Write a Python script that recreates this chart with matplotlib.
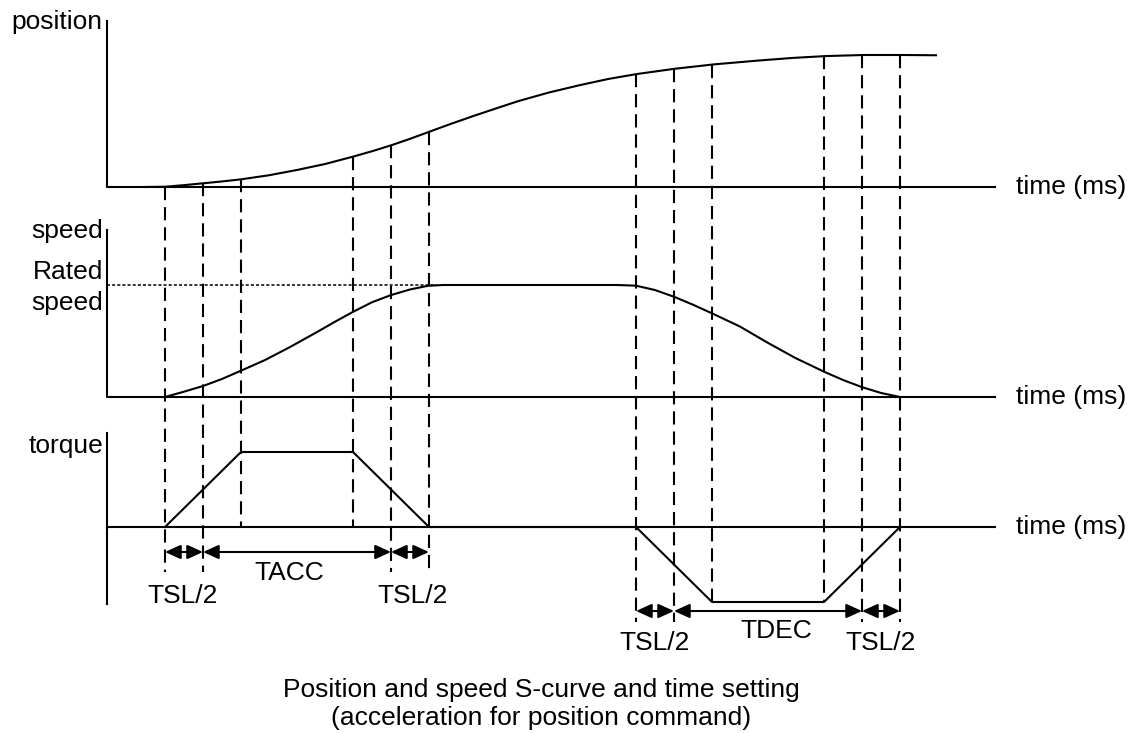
import matplotlib
matplotlib.use("Agg")
import matplotlib.pyplot as plt
import numpy as np

plt.rcParams["font.family"] = ["Liberation Sans", "DejaVu Sans"]
plt.rcParams["lines.scale_dashes"] = False

# time marks (t = 0 at start of acceleration)
acc_marks = [0, 38, 76, 188, 226, 264]
dec_marks = [471, 509, 547, 659, 697, 735]

# position curve, % of final position
pos_t = [-20, 0, 19, 38, 57, 76, 104, 132, 160, 188, 208, 227, 245, 263,
         285, 310, 333, 353, 384, 415, 443, 472, 510, 549, 595, 628, 661,
         699, 737, 771]
pos_v = [0, 0.2, 1.4, 2.8, 4.2, 5.8, 8.9, 12.9, 17.4, 23.0, 27.3, 31.8,
         36.5, 41.5, 47.6, 54.2, 60.0, 65.0, 71.6, 77.2, 81.8, 85.6, 89.6,
         92.9, 95.9, 97.8, 99.2, 100, 100, 99.8]

# speed curve, % of rated speed
spd_t = [0, 18, 38, 57, 76, 100, 125, 152, 170, 188, 207, 226, 245, 263,
         278, 452, 471, 490, 509, 528, 547, 575, 602, 630, 659, 678, 697,
         716, 735]
spd_v = [0, 4.5, 9.8, 16.1, 23.5, 33.0, 44.6, 58.0, 67.2, 76.0, 84.6, 91.0,
         96.0, 99.3, 100, 100, 99.4, 95.5, 89.5, 82.4, 74.7, 62.9, 48.8,
         35.0, 22.6, 15.2, 8.8, 3.6, 0]

# torque, % of max
trq_t = [0, 76, 188, 264, 471, 547, 659, 735]
trq_v = [0, 100, 100, 0, 0, -100, -100, 0]

acc_spans = [(0, 38), (38, 226), (226, 264)]
dec_spans = [(471, 509), (509, 697), (697, 735)]
acc_labels = ["TSL/2", "TACC", "TSL/2"]
dec_labels = ["TSL/2", "TDEC", "TSL/2"]

# layout (pixels)
X0 = 165
def X(t):
    return X0 + np.asarray(t, dtype=float)

def Ypos(v):
    return 187 - 1.32 * np.asarray(v, dtype=float)

def Yspd(v):
    return 397 - 1.12 * np.asarray(v, dtype=float)

def Ytrq(v):
    return 527 - 0.75 * np.asarray(v, dtype=float)

fig = plt.figure(figsize=(11.36, 7.33), dpi=100)
ax = fig.add_axes([0, 0, 1, 1])
ax.set_xlim(0, 1136)
ax.set_ylim(733, 0)
ax.axis("off")

lw = 1.5
k = "black"
xl, xr = 107, 995

# axes of the three panels
ax.plot([xl, xl, xr], [21, 187, 187], color=k, lw=lw)
ax.plot([xl, xl, xr], [230, 397, 397], color=k, lw=lw)
ax.plot([xl, xl], [433, 604], color=k, lw=lw)
ax.plot([xl, xr], [527, 527], color=k, lw=lw)

fs = 19
for y in [187, 397, 527]:
    ax.text(1016, y, "time (ms)", fontsize=fs, ha="left", va="center")

ax.text(102, 29.5, "position", fontsize=fs, ha="right", va="baseline")
ax.text(103, 238, "speed", fontsize=fs, ha="right", va="baseline")
ax.text(103, 279, "Rated", fontsize=fs, ha="right", va="baseline")
ax.text(103, 310, "speed", fontsize=fs, ha="right", va="baseline")
ax.text(103, 453, "torque", fontsize=fs, ha="right", va="baseline")

# curves
ax.plot(X(pos_t), Ypos(pos_v), color=k, lw=lw)
ax.plot(X(spd_t), Yspd(spd_v), color=k, lw=lw)
ax.plot(X(trq_t), Ytrq(trq_v), color=k, lw=lw)
ax.plot([xl, X(272)], [Yspd(100), Yspd(100)], color=k, lw=1.1,
        linestyle=(0, (2.2, 1.5)))

# dashed time markers
for m in acc_marks:
    bottom = 572 if m in (0, 38, 226, 264) else Ytrq(0)
    ax.plot([X(m), X(m)], [Ypos(np.interp(m, pos_t, pos_v)), bottom],
            color=k, lw=lw, linestyle=(0, (9.5, 5)))
for m in dec_marks:
    bottom = 622 if m in (471, 509, 697, 735) else Ytrq(-100)
    ax.plot([X(m), X(m)], [Ypos(np.interp(m, pos_t, pos_v)), bottom],
            color=k, lw=lw, linestyle=(0, (9.5, 5)))

# dimension arrows
arrow = dict(arrowstyle="<|-|>,head_length=0.95,head_width=0.43",
             mutation_scale=10, color=k, lw=lw, shrinkA=0, shrinkB=0)
for a, b in acc_spans:
    ax.annotate("", xy=(X(b), 552), xytext=(X(a), 552), arrowprops=arrow)
for a, b in dec_spans:
    ax.annotate("", xy=(X(b), 611), xytext=(X(a), 611), arrowprops=arrow)

for lab, xp, yp in zip(acc_labels, [183, 289, 413], [603, 580, 603]):
    ax.text(xp, yp, lab, fontsize=fs, ha="center", va="baseline")
for lab, xp, yp in zip(dec_labels, [655, 776, 881], [650, 638, 650]):
    ax.text(xp, yp, lab, fontsize=fs, ha="center", va="baseline")

ax.text(541, 697, "Position and speed S-curve and time setting",
        fontsize=fs, ha="center", va="baseline")
ax.text(541, 725, "(acceleration for position command)",
        fontsize=fs, ha="center", va="baseline")

fig.savefig("out.png", dpi=100)
